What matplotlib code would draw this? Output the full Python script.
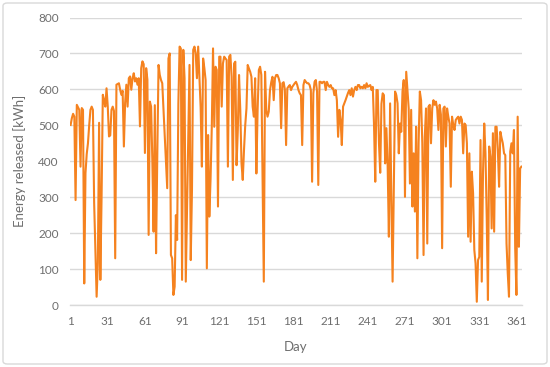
import matplotlib
matplotlib.use("Agg")
import matplotlib.pyplot as plt
from matplotlib.patches import FancyBboxPatch

# Daily energy released [kWh], days 1..365
energy = [
    501, 520, 532, 524, 292, 557, 550, 543, 385, 548,
    543, 60, 367, 420, 450, 500, 543, 552, 543, 284,
    150, 23, 117, 507, 70, 302, 585, 570, 552, 603,
    552, 469, 472, 543, 552, 540, 130, 613, 615, 617,
    599, 585, 596, 441, 562, 613, 552, 631, 636, 599,
    631, 645, 622, 631, 613, 631, 497, 659, 678, 670,
    423, 659, 627, 195, 566, 552, 400, 204, 556, 144,
    420, 668, 640, 626, 617, 543, 470, 400, 325, 686,
    700, 139, 130, 28, 51, 250, 181, 560, 719, 714,
    70, 710, 631, 65, 264, 450, 668, 125, 320, 710,
    719, 700, 631, 719, 636, 550, 385, 686, 659, 626,
    102, 473, 246, 350, 496, 714, 496, 663, 654, 274,
    691, 691, 552, 672, 691, 686, 682, 385, 691, 696,
    635, 348, 672, 677, 389, 487, 640, 543, 394, 348,
    431, 500, 547, 668, 658, 649, 635, 552, 524, 631,
    366, 543, 654, 663, 640, 357, 65, 649, 543, 524,
    538, 598, 620, 635, 570, 631, 640, 640, 631, 617,
    492, 617, 620, 600, 445, 603, 608, 612, 598, 607,
    612, 617, 621, 612, 598, 589, 584, 445, 612, 626,
    621, 617, 617, 612, 598, 343, 589, 621, 626, 594,
    334, 621, 621, 617, 621, 621, 598, 621, 612, 607,
    612, 603, 603, 584, 598, 570, 468, 543, 515, 445,
    552, 561, 570, 580, 590, 598, 584, 603, 580, 598,
    607, 598, 612, 612, 603, 607, 603, 612, 603, 617,
    607, 610, 612, 598, 607, 501, 343, 598, 598, 450,
    368, 560, 589, 584, 394, 492, 389, 190, 561, 292,
    65, 338, 594, 584, 561, 422, 505, 482, 594, 626,
    301, 649, 598, 547, 338, 543, 274, 422, 260, 496,
    130, 450, 594, 570, 450, 139, 468, 547, 171, 552,
    557, 450, 547, 570, 557, 566, 547, 487, 557, 530,
    158, 547, 552, 441, 547, 524, 505, 329, 524, 501,
    487, 515, 520, 524, 505, 524, 515, 422, 505, 501,
    450, 190, 422, 176, 371, 311, 153, 116, 9, 125,
    134, 459, 65, 366, 505, 422, 246, 14, 441, 413,
    213, 478, 204, 496, 496, 431, 329, 482, 465, 450,
    422, 417, 171, 88, 23, 427, 450, 422, 487, 158,
    28, 524, 162, 380, 385,
]
days = list(range(1, len(energy) + 1))

x_ticks = list(range(1, 362, 30))
y_ticks = list(range(0, 801, 100))

plt.rcParams['font.family'] = ['Lato', 'DejaVu Sans']

fig = plt.figure(figsize=(5.5, 3.67), dpi=100)
ax = fig.add_axes([70/550, 62/367, 452/550, 287.5/367])

ax.plot(days, energy, color='#F5821F', linewidth=1.5, solid_joinstyle='round')

ax.set_xlim(0.5, 365.5)
ax.set_ylim(0, 800)
ax.set_xticks(x_ticks)
ax.set_yticks(y_ticks)
ax.tick_params(length=0, labelsize=8.5, colors='#6E6E6E', pad=8)
ax.grid(axis='y', color='#D9D9D9', linewidth=1)
ax.set_axisbelow(True)
for s in ['top', 'right', 'left']:
    ax.spines[s].set_visible(False)
ax.spines['bottom'].set_color('#D9D9D9')
ax.spines['bottom'].set_linewidth(1)

ax.set_xlabel('Day', fontsize=9.5, color='#6E6E6E', labelpad=10)
ax.set_ylabel('Energy released [kWh]', fontsize=9.5, color='#6E6E6E', labelpad=9)

border = FancyBboxPatch((3/550, 3/367), 544/550, 361/367,
                        boxstyle='round,pad=0,rounding_size=0.008',
                        transform=fig.transFigure, facecolor='none',
                        edgecolor='#D9D9D9', linewidth=1)
fig.patches.append(border)

fig.savefig('out.png', dpi=100)
